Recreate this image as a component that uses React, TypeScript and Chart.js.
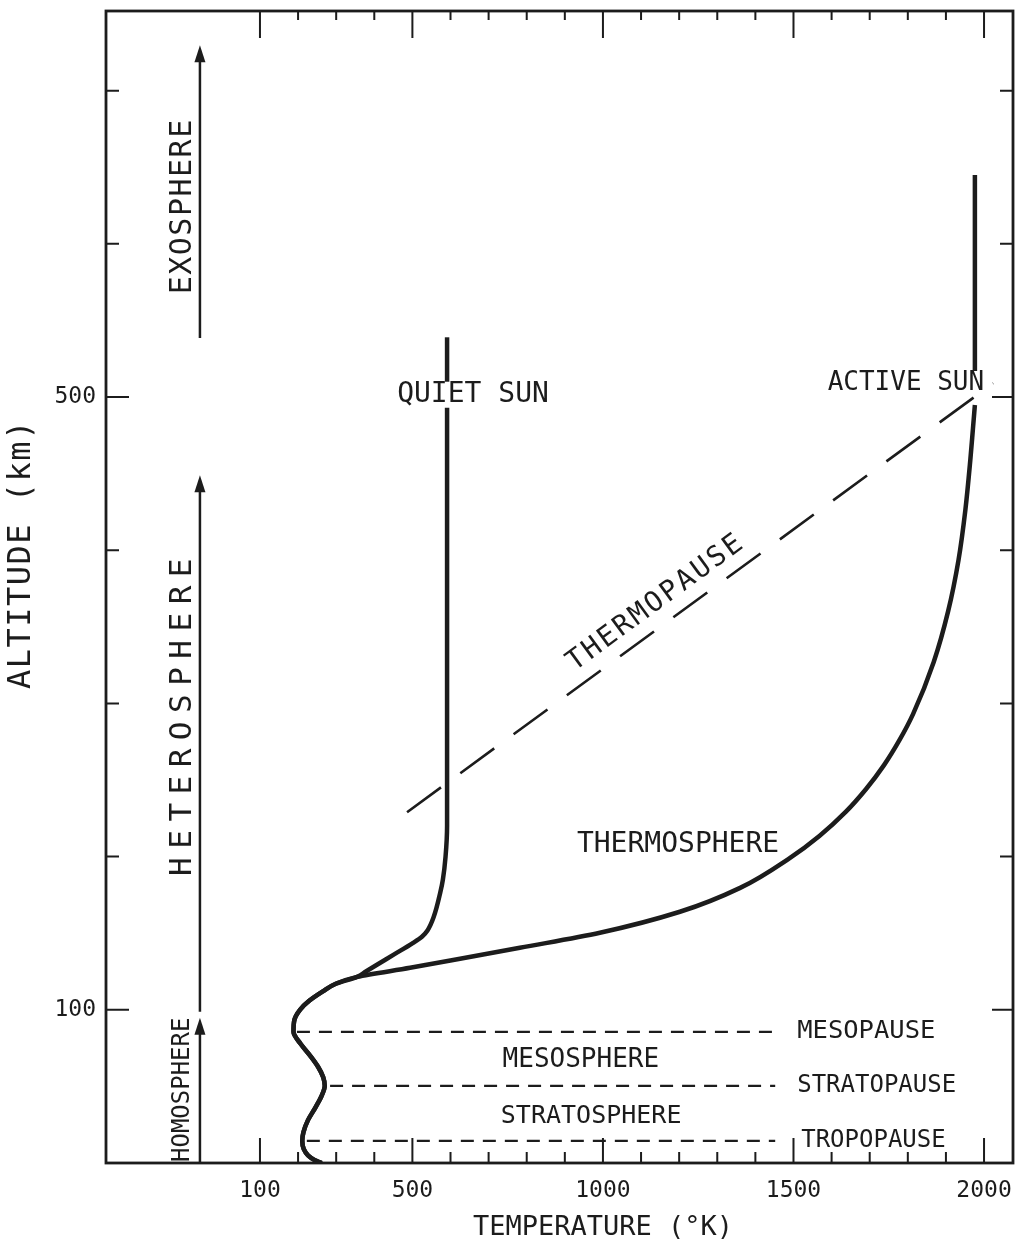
import React, { useEffect, useRef } from "react";
import { Chart, registerables } from "chart.js";

Chart.register(...registerables);

const INK = "#1c1c1c";
const FONT = '"DejaVu Sans Mono", "Liberation Mono", monospace';

// Axis extents (temperature in K, altitude in km)
const tempMin = -304;
const tempMax = 2076;
const altMin = 0;
const altMax = 752;

// Tick marks and labelled ticks
const tempTicks = [100, 200, 300, 400, 500, 600, 700, 800, 900, 1000, 1100, 1200, 1300, 1400, 1500, 1600, 1700, 1800, 1900, 2000];
const tempLabels = [100, 500, 1000, 1500, 2000];
const altTicks = [100, 200, 300, 400, 500, 600, 700];
const altLabels = [100, 500];

// Lower atmosphere profile, shared by both solar conditions
const lowerAlt = [0, 2, 5, 9, 14.5, 20, 28, 36, 44, 50.4, 56, 63, 70, 78, 85.6, 93, 100, 106, 112, 117, 121.5];
const lowerTemp = [262, 243, 226, 215, 211, 214, 226, 245, 262, 270, 266, 252, 232, 206, 188, 190, 205, 230, 265, 299, 355];

// Thermosphere profile for a quiet sun
const quietAlt = [125, 129.4, 136, 143.7, 147.7, 152, 160.7, 176.4, 185, 200, 220, 493];
const quietTemp = [378, 407, 451, 502, 525, 540, 556, 573, 580, 587, 591, 591];
const quietTopAlt = [510, 539];
const quietTopTemp = [591, 591];

// Thermosphere profile for an active sun
const activeAlt = [127.4, 133.3, 140.5, 150.3, 164, 179.6, 199.2, 213.5, 229.2, 244, 259.9, 276, 293.2, 327.1, 360.4, 393.6, 426.3, 458.9, 479.7, 494.8];
const activeTemp = [494, 625, 782, 992, 1202, 1360, 1491, 1568, 1637, 1690, 1738, 1778, 1814, 1868, 1906, 1933, 1951, 1964, 1971, 1976];
const activeTopAlt = [517, 645];
const activeTopTemp = [1976, 1976];

// Boundary layers (dashed horizontals)
const pauseNames = ["TROPOPAUSE", "STRATOPAUSE", "MESOPAUSE"];
const pauseAlt = [14.5, 50.4, 85.6];
const pauseStartTemp = [223, 284, 197];
const pauseEndTemp = [1452, 1452, 1452];

// Thermopause (dashed diagonal)
const thermopauseTemp = [486, 2024];
const thermopauseAlt = [229, 509];

// Composition regions (arrows on the left)
const sphereNames = ["HOMOSPHERE", "HETEROSPHERE", "EXOSPHERE"];
const sphereFromAlt = [0, 98.7, 538.5];
const sphereToAlt = [94.8, 449, 729.7];

const toPoints = (t: number[], a: number[]) => t.map((v, i) => ({ x: v, y: a[i] }));

function drawText(
  ctx: CanvasRenderingContext2D,
  str: string,
  px: number,
  py: number,
  size: number,
  opts: { align?: CanvasTextAlign; rotate?: number; spacing?: number } = {}
) {
  ctx.save();
  ctx.translate(px, py);
  if (opts.rotate) ctx.rotate(opts.rotate);
  ctx.font = `${size}px ${FONT}`;
  const sp = opts.spacing || 0;
  (ctx as any).letterSpacing = `${sp}px`;
  ctx.textAlign = opts.align || "center";
  ctx.textBaseline = "middle";
  ctx.fillStyle = INK;
  // trailing letter spacing is compensated so centred text stays centred
  const shift = (opts.align || "center") === "center" ? sp / 2 : 0;
  ctx.fillText(str, shift, 0);
  ctx.restore();
}

const annotations = {
  id: "atmosphereAnnotations",
  afterDatasetsDraw(chart: any) {
    const { ctx, chartArea: area } = chart;
    const x = chart.scales.x;
    const y = chart.scales.y;
    const px = (t: number) => x.getPixelForValue(t);
    const py = (a: number) => y.getPixelForValue(a);

    ctx.save();
    ctx.strokeStyle = INK;
    ctx.fillStyle = INK;

    // frame
    ctx.lineWidth = 2.8;
    ctx.strokeRect(area.left, area.top, area.right - area.left, area.bottom - area.top);

    // inward tick marks
    ctx.lineWidth = 2;
    ctx.beginPath();
    tempTicks.forEach((t) => {
      const major = tempLabels.includes(t);
      const xx = px(t);
      ctx.moveTo(xx, area.top);
      ctx.lineTo(xx, area.top + (major ? 27 : 9));
      ctx.moveTo(xx, area.bottom);
      ctx.lineTo(xx, area.bottom - (major ? 25 : 11));
    });
    altTicks.forEach((a) => {
      const major = altLabels.includes(a);
      const yy = py(a);
      ctx.moveTo(area.left, yy);
      ctx.lineTo(area.left + (major ? 23 : 13), yy);
      ctx.moveTo(area.right, yy);
      ctx.lineTo(area.right - (major ? 21 : 13), yy);
    });
    ctx.stroke();

    // region arrows
    const arrowTemp = -57.5;
    ctx.lineWidth = 2.5;
    sphereNames.forEach((_, i) => {
      const xx = px(arrowTemp);
      const y0 = py(sphereFromAlt[i]);
      const y1 = py(sphereToAlt[i]);
      ctx.beginPath();
      ctx.moveTo(xx, y0);
      ctx.lineTo(xx, y1 + 12);
      ctx.stroke();
      ctx.beginPath();
      ctx.moveTo(xx, y1);
      ctx.lineTo(xx - 5.5, y1 + 17);
      ctx.lineTo(xx + 5.5, y1 + 17);
      ctx.closePath();
      ctx.fill();
    });
    ctx.restore();

    // region names beside the arrows
    const sphereTextAlt = [47.8, 291, 624];
    const sphereSize = [24, 31, 30];
    const sphereSpacing = [0, 8.5, 1.5];
    sphereNames.forEach((name, i) => {
      drawText(ctx, name, px(-101.5), py(sphereTextAlt[i]), sphereSize[i], {
        rotate: -Math.PI / 2,
        spacing: sphereSpacing[i],
      });
    });

    // layer labels
    drawText(ctx, "QUIET SUN", px(659), py(501.4), 28);
    drawText(ctx, "ACTIVE SUN", px(1795), py(509.2), 26);
    drawText(ctx, "THERMOSPHERE", px(1197), py(207.7), 28);
    drawText(ctx, "MESOSPHERE", px(942), py(67.1), 26);
    drawText(ctx, "STRATOSPHERE", px(969), py(30.5), 25);
    const pauseSize = [24, 24, 25.5];
    const pauseGap = [26, 22, 22];
    pauseNames.forEach((name, i) => {
      drawText(ctx, name, px(pauseEndTemp[i]) + pauseGap[i], py(pauseAlt[i]), pauseSize[i], { align: "left" });
    });

    // thermopause label along the dashed line
    const ax = px(thermopauseTemp[0]);
    const ay = py(thermopauseAlt[0]);
    const bx = px(thermopauseTemp[1]);
    const by = py(thermopauseAlt[1]);
    const ang = Math.atan2(by - ay, bx - ax);
    const f = (px(1171) - ax) / (bx - ax);
    const cx = ax + f * (bx - ax) + Math.sin(ang) * 22;
    const cy = ay + f * (by - ay) - Math.cos(ang) * 22;
    drawText(ctx, "THERMOPAUSE", cx, cy, 28, { rotate: ang, spacing: 2.5 });

    // axis titles
    drawText(ctx, "TEMPERATURE (°K)", px(1000), 1228, 27);
    drawText(ctx, "ALTITUDE (km)", 22, py(397), 32, { rotate: -Math.PI / 2, spacing: 1.5 });
  },
};

export default function App() {
  const ref = useRef<HTMLCanvasElement>(null);

  useEffect(() => {
    const canvas = ref.current;
    if (!canvas) return;

    const solid = { borderColor: INK, borderWidth: 4.5, pointRadius: 0, cubicInterpolationMode: "monotone" as const };
    const datasets: any[] = [
      { ...solid, data: [...toPoints(lowerTemp, lowerAlt), ...toPoints(quietTemp, quietAlt)] },
      { ...solid, data: toPoints(quietTopTemp, quietTopAlt) },
      { ...solid, data: [...toPoints(lowerTemp, lowerAlt), ...toPoints(activeTemp, activeAlt)] },
      { ...solid, data: toPoints(activeTopTemp, activeTopAlt) },
      {
        borderColor: INK,
        borderWidth: 2.6,
        borderDash: [42, 24],
        pointRadius: 0,
        data: toPoints(thermopauseTemp, thermopauseAlt),
      },
      ...pauseNames.map((_, i) => ({
        borderColor: INK,
        borderWidth: 2.3,
        borderDash: [13, 9],
        pointRadius: 0,
        data: [
          { x: pauseStartTemp[i], y: pauseAlt[i] },
          { x: pauseEndTemp[i], y: pauseAlt[i] },
        ],
      })),
    ];

    const tickFont = { family: FONT, size: 23 };

    const chart = new Chart(canvas, {
      type: "line",
      data: { datasets },
      options: {
        animation: false,
        responsive: false,
        indexAxis: "y",
        layout: { padding: { top: 11, right: 17, left: 0, bottom: 0 } },
        plugins: { legend: { display: false }, tooltip: { enabled: false } },
        elements: { line: { borderCapStyle: "butt", borderJoinStyle: "round" } },
        scales: {
          x: {
            type: "linear",
            position: "bottom",
            min: tempMin,
            max: tempMax,
            grid: { display: false, drawTicks: false },
            border: { display: false },
            afterBuildTicks: (s: any) => {
              s.ticks = tempLabels.map((v) => ({ value: v }));
            },
            afterFit: (s: any) => {
              s.height = 87;
              s.paddingLeft = 0;
              s.paddingRight = 0;
            },
            ticks: {
              autoSkip: false,
              maxRotation: 0,
              padding: 14,
              color: INK,
              font: tickFont,
              callback: (v: any) => String(v),
            },
          },
          y: {
            type: "linear",
            position: "left",
            min: altMin,
            max: altMax,
            grid: { display: false, drawTicks: false },
            border: { display: false },
            afterBuildTicks: (s: any) => {
              s.ticks = altLabels.map((v) => ({ value: v }));
            },
            afterFit: (s: any) => {
              s.width = 106;
              s.paddingTop = 0;
              s.paddingBottom = 0;
            },
            ticks: {
              autoSkip: false,
              padding: 10,
              color: INK,
              font: tickFont,
              callback: (v: any) => String(v),
            },
          },
        },
      } as any,
      plugins: [annotations],
    });

    return () => chart.destroy();
  }, []);

  return (
    <div style={{ position: "absolute", left: 0, top: 0, width: 1030, height: 1250, background: "#fff" }}>
      <canvas ref={ref} width={1030} height={1250} style={{ display: "block", width: 1030, height: 1250 }} />
    </div>
  );
}
